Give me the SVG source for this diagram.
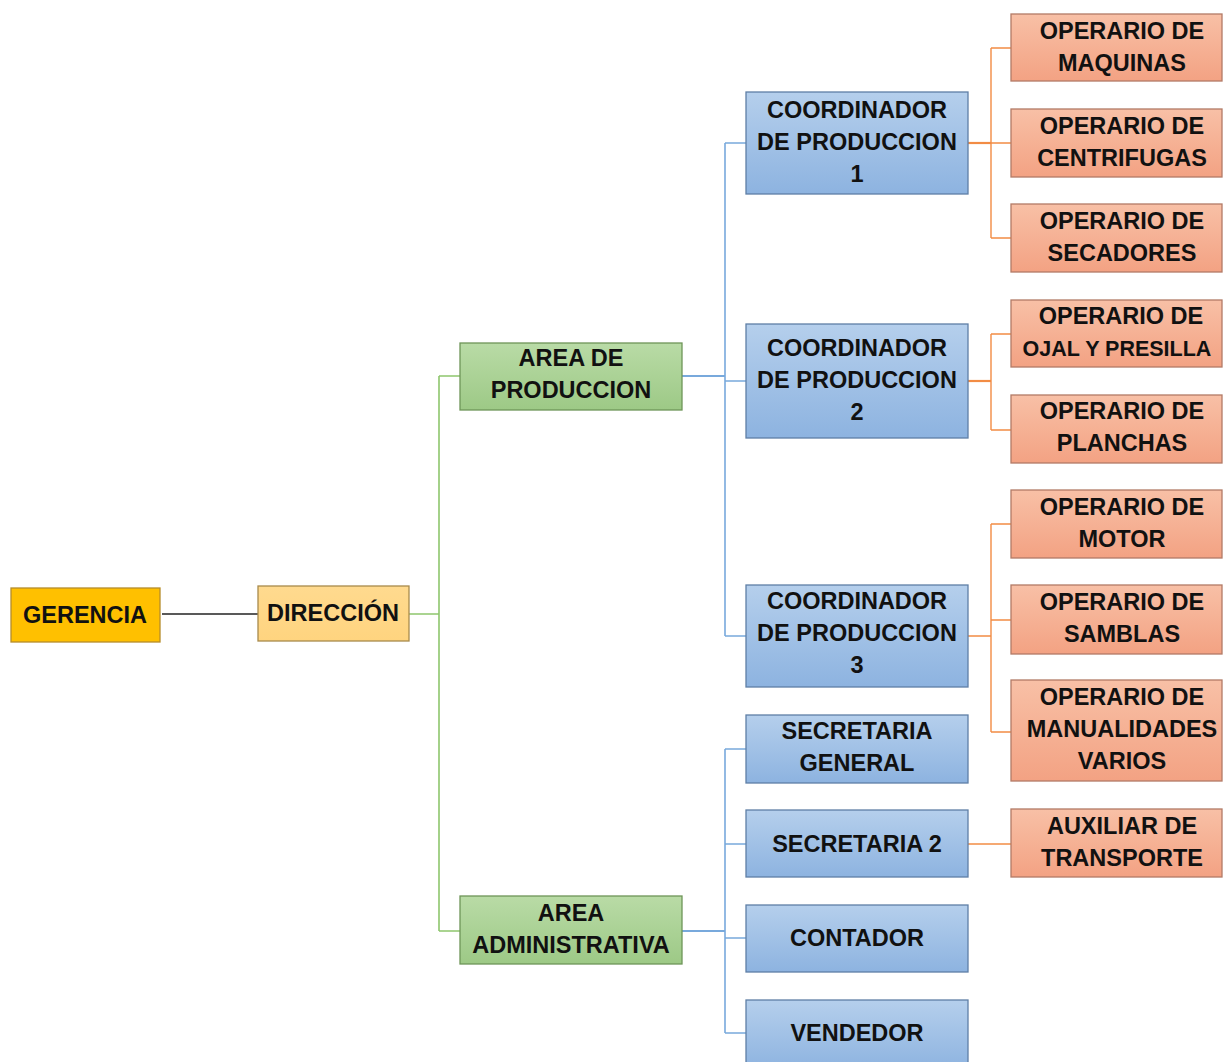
<svg xmlns="http://www.w3.org/2000/svg" width="1223" height="1062" viewBox="0 0 1223 1062">
  <defs>
    <linearGradient id="gGreen" x1="0" y1="0" x2="0" y2="1">
      <stop offset="0" stop-color="#b9dba6"/>
      <stop offset="1" stop-color="#9dc986"/>
    </linearGradient>
    <linearGradient id="gBlue" x1="0" y1="0" x2="0" y2="1">
      <stop offset="0" stop-color="#b5cfec"/>
      <stop offset="1" stop-color="#8db3e0"/>
    </linearGradient>
    <linearGradient id="gOrange" x1="0" y1="0" x2="0" y2="1">
      <stop offset="0" stop-color="#f8c0a6"/>
      <stop offset="1" stop-color="#f3a283"/>
    </linearGradient>
    <linearGradient id="gGold" x1="0" y1="0" x2="0" y2="1">
      <stop offset="0" stop-color="#ffda8f"/>
      <stop offset="1" stop-color="#ffd47f"/>
    </linearGradient>
  </defs>
  <style>
    text { font-family: "Liberation Sans", Arial, sans-serif; font-weight: 700; font-size: 23.5px; fill: #111; text-anchor: middle; }
    .narrow { font-size: 21.5px; }
    .green { fill: url(#gGreen); stroke: #6e9558; stroke-width: 1.3; }
    .blue { fill: url(#gBlue); stroke: #5f7fa6; stroke-width: 1.3; }
    .orange { fill: url(#gOrange); stroke: #b27a66; stroke-width: 1.3; }
    .c-black { stroke: #222; stroke-width: 1.3; fill: none; }
    .c-green { stroke: #8ec66d; stroke-width: 1.6; fill: none; }
    .c-blue { stroke: #78a9dc; stroke-width: 1.6; fill: none; }
    .c-orange { stroke: #f28c44; stroke-width: 1.4; fill: none; }
    .stub { stroke-width: 2.2; }
  </style>
  <rect width="1223" height="1062" fill="#ffffff"/>

  <!-- connectors -->
  <g id="connectors">
    <path class="c-black" d="M162 614 H258"/>
    <path class="c-green" d="M409 614 H439 M439 376 V931 M439 376 H460 M439 931 H460"/>
    <path class="c-blue" d="M725 143 V636 M725 143 H746 M725 381 H746 M725 636 H746"/>
    <path class="c-blue stub" d="M682 376 H725"/>
    <path class="c-blue" d="M725 749 V1033 M725 749 H746 M725 844 H746 M725 938 H746 M725 1033 H746"/>
    <path class="c-blue stub" d="M682 931 H725"/>
    <path class="c-orange" d="M991 48 V238 M991 48 H1011 M991 143 H1011 M991 238 H1011"/>
    <path class="c-orange stub" d="M968 143 H991"/>
    <path class="c-orange" d="M991 334 V430 M991 334 H1011 M991 430 H1011"/>
    <path class="c-orange stub" d="M968 381 H991"/>
    <path class="c-orange" d="M968 636 H991 M991 524 V732 M991 524 H1011 M991 620 H1011 M991 732 H1011"/>
    <path class="c-orange" d="M968 844 H1011"/>
  </g>

  <!-- top levels -->
  <g id="gerencia">
    <rect x="11" y="588" width="149" height="54" fill="#ffc000" stroke="#b58d2a" stroke-width="1.3"/>
    <text x="85" y="623">GERENCIA</text>
  </g>
  <g id="direccion">
    <rect x="258" y="586" width="151" height="55" fill="url(#gGold)" stroke="#a88a4c" stroke-width="1.3"/>
    <text x="333" y="621">DIRECCIÓN</text>
  </g>
  <g id="area-produccion">
    <rect class="green" x="460" y="343" width="222" height="67"/>
    <text x="571" y="366">AREA DE</text>
    <text x="571" y="398">PRODUCCION</text>
  </g>
  <g id="area-administrativa">
    <rect class="green" x="460" y="896" width="222" height="68"/>
    <text x="571" y="921">AREA</text>
    <text x="571" y="953">ADMINISTRATIVA</text>
  </g>

  <!-- coordinators and staff -->
  <g id="coordinador-1">
    <rect class="blue" x="746" y="92" width="222" height="102"/>
    <text x="857" y="118">COORDINADOR</text>
    <text x="857" y="150">DE PRODUCCION</text>
    <text x="857" y="182">1</text>
  </g>
  <g id="coordinador-2">
    <rect class="blue" x="746" y="324" width="222" height="114"/>
    <text x="857" y="356">COORDINADOR</text>
    <text x="857" y="388">DE PRODUCCION</text>
    <text x="857" y="420">2</text>
  </g>
  <g id="coordinador-3">
    <rect class="blue" x="746" y="585" width="222" height="102"/>
    <text x="857" y="609">COORDINADOR</text>
    <text x="857" y="641">DE PRODUCCION</text>
    <text x="857" y="673">3</text>
  </g>
  <g id="secretaria-general">
    <rect class="blue" x="746" y="715" width="222" height="68"/>
    <text x="857" y="739">SECRETARIA</text>
    <text x="857" y="771">GENERAL</text>
  </g>
  <g id="secretaria-2">
    <rect class="blue" x="746" y="810" width="222" height="67"/>
    <text x="857" y="852">SECRETARIA 2</text>
  </g>
  <g id="contador">
    <rect class="blue" x="746" y="905" width="222" height="67"/>
    <text x="857" y="946">CONTADOR</text>
  </g>
  <g id="vendedor">
    <rect class="blue" x="746" y="1000" width="222" height="70"/>
    <text x="857" y="1041">VENDEDOR</text>
  </g>

  <!-- operators -->
  <g id="op-maquinas">
    <rect class="orange" x="1011" y="14" width="211" height="67"/>
    <text x="1122" y="39">OPERARIO DE</text>
    <text x="1122" y="71">MAQUINAS</text>
  </g>
  <g id="op-centrifugas">
    <rect class="orange" x="1011" y="109" width="211" height="68"/>
    <text x="1122" y="134">OPERARIO DE</text>
    <text x="1122" y="166">CENTRIFUGAS</text>
  </g>
  <g id="op-secadores">
    <rect class="orange" x="1011" y="204" width="211" height="68"/>
    <text x="1122" y="229">OPERARIO DE</text>
    <text x="1122" y="261">SECADORES</text>
  </g>
  <g id="op-ojal">
    <rect class="orange" x="1011" y="300" width="211" height="67"/>
    <text x="1121" y="324">OPERARIO DE</text>
    <text class="narrow" x="1117" y="356">OJAL Y PRESILLA</text>
  </g>
  <g id="op-planchas">
    <rect class="orange" x="1011" y="395" width="211" height="68"/>
    <text x="1122" y="419">OPERARIO DE</text>
    <text x="1122" y="451">PLANCHAS</text>
  </g>
  <g id="op-motor">
    <rect class="orange" x="1011" y="490" width="211" height="68"/>
    <text x="1122" y="515">OPERARIO DE</text>
    <text x="1122" y="547">MOTOR</text>
  </g>
  <g id="op-samblas">
    <rect class="orange" x="1011" y="585" width="211" height="69"/>
    <text x="1122" y="610">OPERARIO DE</text>
    <text x="1122" y="642">SAMBLAS</text>
  </g>
  <g id="op-manualidades">
    <rect class="orange" x="1011" y="680" width="211" height="101"/>
    <text x="1122" y="705">OPERARIO DE</text>
    <text x="1122" y="737">MANUALIDADES</text>
    <text x="1122" y="769">VARIOS</text>
  </g>
  <g id="auxiliar-transporte">
    <rect class="orange" x="1011" y="809" width="211" height="68"/>
    <text x="1122" y="834">AUXILIAR DE</text>
    <text x="1122" y="866">TRANSPORTE</text>
  </g>
</svg>
